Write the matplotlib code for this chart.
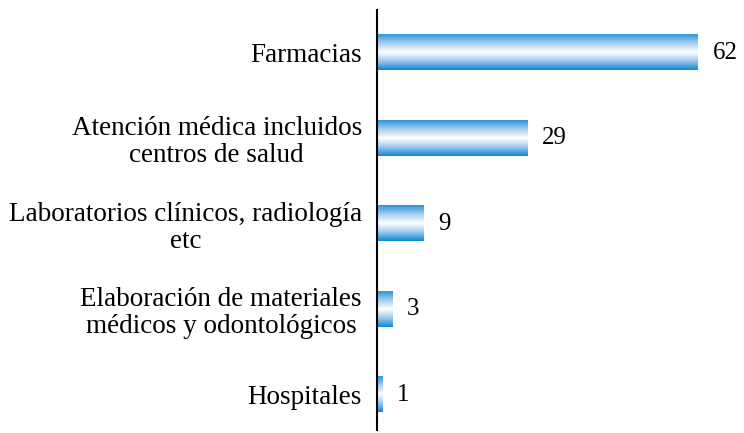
import numpy as np
import matplotlib.pyplot as plt
from matplotlib.colors import LinearSegmentedColormap

categories = ['Hospitales',
              'Elaboración de materiales\nmédicos y odontológicos',
              'Laboratorios clínicos, radiología\netc',
              'Atención médica incluidos\ncentros de salud',
              'Farmacias']
values = [1, 3, 9, 29, 62]

plt.rcParams['font.family'] = ['Liberation Serif', 'DejaVu Serif']

fig = plt.figure(figsize=(7.44, 4.33), dpi=100)
ax = fig.add_axes([0.507, 0.007, 0.473, 0.970])

# blue -> white -> blue stripe for each bar
cmap = LinearSegmentedColormap.from_list('stripe', ['#0b87d6', '#9cc8ee', '#ffffff', '#a6cdee', '#2c95dc'])
grad = np.linspace(0, 1, 256).reshape(-1, 1)
bar_h = 0.41
for i, v in enumerate(values):
    ax.imshow(grad, extent=[0, v, i + bar_h / 2, i - bar_h / 2], aspect='auto',
              cmap=cmap, interpolation='bilinear', zorder=2)
    ax.text(v + 2.8, i, str(v), va='center', ha='left', fontsize=18)

ax.set_xlim(0, 68)
ax.set_ylim(-0.41, 4.50)
ax.set_yticks(range(len(categories)))
ax.set_yticklabels(categories, fontsize=19.5, multialignment='center', linespacing=1.1)
ax.tick_params(axis='y', length=0, pad=11)
ax.set_xticks([])
for s in ['top', 'right', 'bottom']:
    ax.spines[s].set_visible(False)
ax.spines['left'].set_linewidth(1.5)

fig.savefig('out.png', dpi=100)
